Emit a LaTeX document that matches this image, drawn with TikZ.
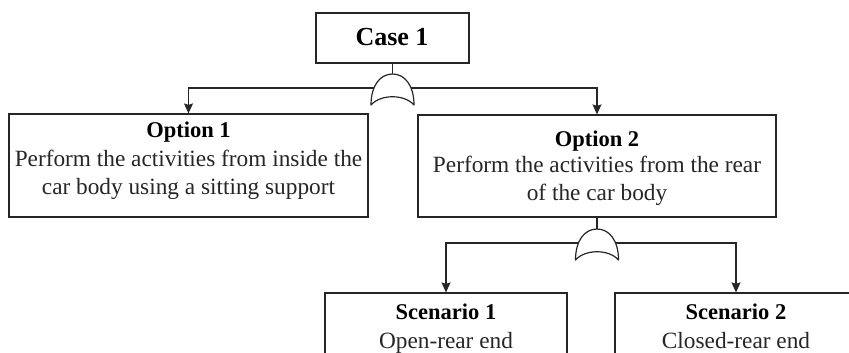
\documentclass[tikz,border=0pt]{standalone}
\usepackage{fontspec}
\setmainfont{Liberation Serif}
\usetikzlibrary{arrows.meta}
\begin{document}
\begin{tikzpicture}[x=1pt,y=-1pt,
  box/.style={draw=black!85, line width=1.2pt, inner sep=0pt, fill=white},
  conn/.style={draw=black!85, line width=1.2pt},
  arr/.style={conn, -{Stealth[length=10pt,width=9pt,inset=1.5pt]}},
  casetxt/.style={font=\bfseries\fontsize{26}{30}\selectfont, anchor=base, inner sep=0pt},
  ttl/.style={font=\bfseries\fontsize{22.5}{28}\selectfont, anchor=base, inner sep=0pt},
  body/.style={font=\fontsize{23.3}{28}\selectfont, anchor=base, inner sep=0pt, align=center, text=black!85},
  orgate/.pic={
    \draw[conn, fill=white, line join=round] (-21.5,31) .. controls (-21.5,11) and (-12,0) .. (0,0)
      .. controls (12,0) and (21.5,11) .. (21.5,31)
      .. controls (12,20) and (-12,20) .. (-21.5,31) -- cycle;
    \coordinate (-l) at (-18.5,14);
    \coordinate (-r) at (18.5,14);
    \coordinate (-top) at (0,0);
  }]
\useasboundingbox (0,0) rectangle (849,353);

% boxes
\node[box, minimum width=153pt, minimum height=50pt] (case) at (392.5,38) {};
\node[box, minimum width=359pt, minimum height=103pt] (o1) at (188.5,165.5) {};
\node[box, minimum width=358pt, minimum height=102pt] (o2) at (597,166) {};
\node[box, minimum width=242pt, minimum height=103pt] (s1) at (446,344.5) {};
\node[box, minimum width=242pt, minimum height=103pt] (s2) at (736,344.5) {};

% texts
\node[casetxt] (caset) at (392,46) {Case 1};
\node[ttl] (o1t) at (188.5,137) {Option 1};
\node[body] (o1b) at (188.5,194) {Perform the activities from inside the\\car body using a sitting support};
\node[ttl] (o2t) at (597,146) {Option 2};
\node[body] (o2b) at (597,200) {Perform the activities from the rear\\of the car body};
\node[ttl] (s1t) at (446,319) {Scenario 1};
\node[body] (s1b) at (446,348) {Open-rear end};
\node[ttl] (s2t) at (736,319) {Scenario 2};
\node[body] (s2b) at (736,348) {Closed-rear end};

% gates
\pic (g1) at (392.5,74) {orgate};
\pic (g2) at (597,229) {orgate};

% connectors
\draw[conn] (case.south) -- (g1-top);
\draw[arr] (g1-l) -| (o1.north);
\draw[arr] (g1-r) -| (o2.north);
\draw[conn] (o2.south) -- (g2-top);
\draw[arr] (g2-l) -| (s1.north);
\draw[arr] (g2-r) -| (s2.north);
\end{tikzpicture}
\end{document}
